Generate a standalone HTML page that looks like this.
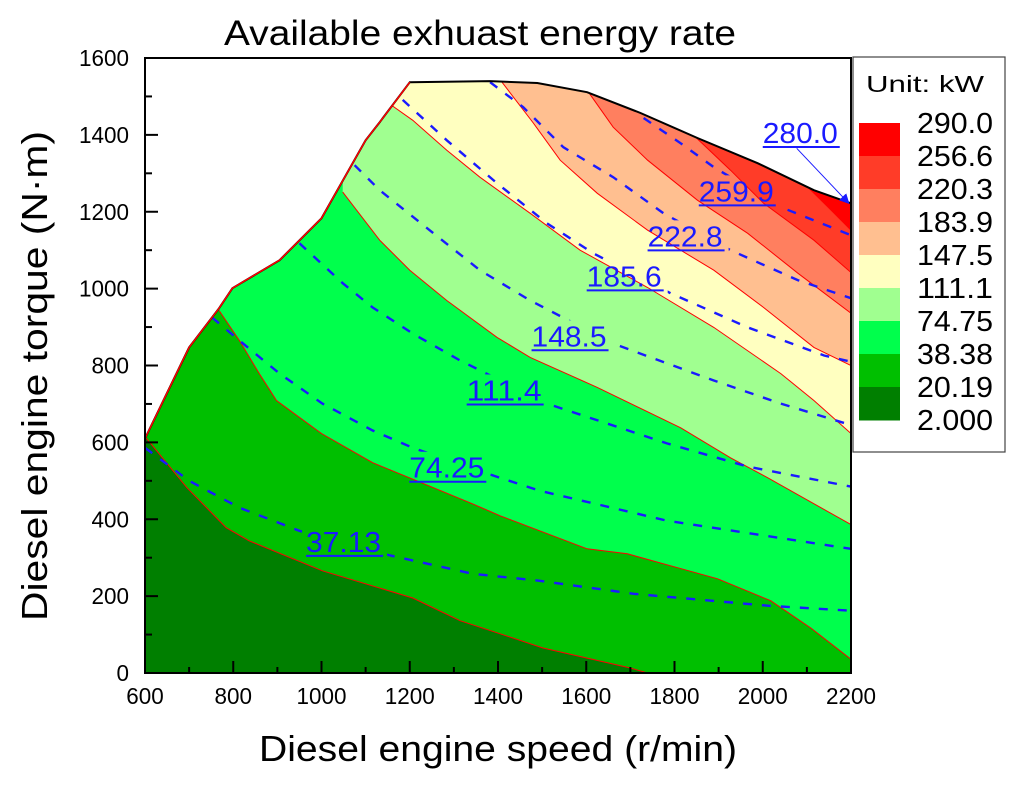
<!DOCTYPE html>
<html><head><meta charset="utf-8"><style>
html,body{margin:0;padding:0;background:#fff;}
svg{display:block;font-family:"Liberation Sans",Arial,sans-serif;}
</style></head><body>
<svg id="chart" width="1024" height="788" viewBox="0 0 1024 788" xmlns="http://www.w3.org/2000/svg">
<defs><clipPath id="envClip"><path id="envClipPath" d=""/></clipPath>
<mask id="labelMask" maskUnits="userSpaceOnUse" x="0" y="0" width="1024" height="788"><rect x="0" y="0" width="1024" height="788" fill="#fff"/><g id="maskHoles"></g></mask>
<marker id="arrowHead" markerWidth="10" markerHeight="10" refX="9" refY="5" orient="auto" markerUnits="userSpaceOnUse"><path d="M0,0 L10,5 L0,10 z" fill="#1a1aff"/></marker></defs>
<text x="480" y="45" font-size="35" text-anchor="middle" textLength="512" lengthAdjust="spacingAndGlyphs">Available exhuast energy rate</text>
<g id="plot"></g>
<g id="axes"></g>
<g id="legend"></g>
<text x="498" y="761" font-size="36" text-anchor="middle" textLength="478" lengthAdjust="spacingAndGlyphs">Diesel engine speed (r/min)</text>
<text transform="translate(47,376) rotate(-90)" font-size="36" text-anchor="middle" textLength="490" lengthAdjust="spacingAndGlyphs">Diesel engine torque (N·m)</text>
</svg>
<script>
// ---- data ----
const xTicks = [600,800,1000,1200,1400,1600,1800,2000,2200];
const yTicks = [0,200,400,600,800,1000,1200,1400,1600];
const levelLabels = ["290.0","256.6","220.3","183.9","147.5","111.1","74.75","38.38","20.19","2.000"];
const levelColors = ["#ff0000","#ff3c28","#ff7f5f","#ffbf90","#ffffc0","#a0ff90","#00ff4c","#00bf00","#007f00"];
const envelope = [[600,0],[600,610],[700,847],[768,949],[798,1001],[905,1074],[1000,1183],[1100,1386],[1132,1433],[1200,1537],[1382,1540],[1489,1535],[1602,1511],[1723,1457],[1852,1392],[1989,1326],[2116,1256],[2200,1222],[2200,0]];
const boundary1 = [[600,615],[695,482],[784,378],[836,344],[1002,266],[1207,195],[1314,136],[1405,102],[1502,65],[1700,13],[1739,0]];
const boundary2 = [[768,943],[814,865],[859,779],[898,709],[1000,623],[1116,547],[1216,500],[1343,440],[1405,409],[1602,323],[1693,310],[1807,274],[1898,245],[2018,188],[2109,117],[2200,36]];
const boundary3 = [[1048,1251],[1132,1126],[1200,1048],[1284,969],[1398,873],[1473,821],[1625,743],[1814,638],[1927,560],[2011,508],[2200,386]];
const boundary4 = [[1155,1480],[1207,1438],[1284,1360],[1359,1290],[1473,1196],[1586,1100],[1739,1003],[1889,899],[2041,779],[2116,709],[2200,623]];
const boundary5 = [[1409,1537],[1480,1431],[1541,1334],[1625,1248],[1739,1152],[1889,1048],[2002,951],[2116,847],[2200,800]];
const boundary6 = [[1605,1511],[1661,1420],[1739,1334],[1852,1230],[1966,1144],[2080,1040],[2200,936]];
const boundary7 = [[1848,1394],[1927,1308],[2002,1222],[2116,1126],[2200,1042]];
const boundary8 = [[2102,1264],[2148,1212],[2200,1152]];
const boundaries = [boundary1,boundary2,boundary3,boundary4,boundary5,boundary6,boundary7,boundary8];
const line3713 = [[600,586],[700,500],[814,430],[950,370],[1139,310],[1343,258],[1495,240],[1707,206],[2011,175],[2200,162]];
const line7425 = [[752,925],[814,865],[905,779],[1002,701],[1116,631],[1207,586],[1375,519],[1495,474],[1784,396],[2200,323]];
const line1114 = [[950,1118],[1048,1014],[1116,951],[1207,883],[1314,813],[1511,701],[1784,597],[1966,537],[2200,485]];
const line1485 = [[1075,1321],[1132,1256],[1245,1152],[1359,1048],[1473,969],[1661,857],[1889,761],[2041,701],[2200,645]];
const line1856 = [[1184,1491],[1284,1386],[1398,1274],[1511,1170],[1616,1092],[1791,988],[1966,899],[2139,826],[2200,810]];
const line2228 = [[1382,1537],[1457,1472],[1548,1368],[1661,1290],[1775,1196],[1927,1100],[2080,1022],[2200,975]];
const line2599 = [[1730,1444],[1814,1378],[1889,1316],[2041,1212],[2200,1139]];
const dashedLines = [line3713,line7425,line1114,line1485,line1856,line2228,line2599];
const contourLabelText = ["37.13","74.25","111.4","148.5","185.6","222.8","259.9","280.0"];
const contourLabelSpeed = [965,1199,1329,1476,1601,1739,1855,2000];
const contourLabelTorque = [315,508,709,850,1006,1110,1227,1379];
const arrow280 = [[2077,1365],[2195,1222]];

// ---- scales ----
const X0=145,X1=851,Y0=673,Y1=58;
const sx = s => X0 + (s-600)*(X1-X0)/1600;
const sy = t => Y0 - t*(Y0-Y1)/1600;
const NS="http://www.w3.org/2000/svg";
function mk(tag, attrs, parent){const e=document.createElementNS(NS,tag);for(const k in attrs)e.setAttribute(k,attrs[k]);parent.appendChild(e);return e;}
const ptsToPath = pts => pts.map((p,i)=>(i?"L":"M")+sx(p[0]).toFixed(1)+","+sy(p[1]).toFixed(1)).join(" ");

const plot=document.getElementById('plot');
const envD = ptsToPath(envelope)+" Z";
document.getElementById('envClipPath').setAttribute('d',envD);
const base = mk('path',{d:envD,fill:levelColors[8]},plot);


const regions = mk('g',{'clip-path':'url(#envClip)'},plot);
boundaries.forEach((b,i)=>{
  const first=b[0], last=b[b.length-1];
  const d = ptsToPath(b)+" L"+sx(2400)+","+sy(last[1])+" L"+sx(2400)+","+sy(3000)+" L"+sx(first[0])+","+sy(3000)+" Z";
  const r = mk('path',{d:d,fill:levelColors[7-i]},regions);
  
  
});
boundaries.forEach((b,i)=>{
  const l = mk('path',{d:ptsToPath(b),fill:'none',stroke:'#ff0000','stroke-width':1},regions);
  
  
});
// holes in dashed lines behind labels
const holes=document.getElementById('maskHoles');
contourLabelText.forEach((t,i)=>{
  mk('rect',{x:sx(contourLabelSpeed[i])-4,y:sy(contourLabelTorque[i])-26,width:85,height:34,fill:'#000'},holes);
});
const dashG = mk('g',{mask:'url(#labelMask)'},regions);
dashedLines.forEach((ln,i)=>{
  const l = mk('path',{d:ptsToPath(ln),fill:'none',stroke:'#1a1aff','stroke-width':2.4,'stroke-dasharray':'9 10'},dashG);
  
  
});
const env = mk('path',{d:ptsToPath(envelope.slice(1,-1)),fill:'none',stroke:'#000','stroke-width':2},plot);


const envR = mk('path',{d:ptsToPath(envelope.slice(0,10)),fill:'none',stroke:'#ff0000','stroke-width':1.5},plot);


contourLabelText.forEach((t,i)=>{
  const x=sx(contourLabelSpeed[i]), y=sy(contourLabelTorque[i]);
  const tx = mk('text',{x:x,y:y,'font-size':29,fill:'#1a1aff',textLength:75,lengthAdjust:'spacingAndGlyphs'},plot);
  tx.textContent=t;
  
  
  const u = mk('line',{x1:x,y1:y+4,x2:x+77,y2:y+4,stroke:'#1a1aff','stroke-width':2},plot);
  
  
});
const ar = mk('line',{x1:sx(arrow280[0][0]),y1:sy(arrow280[0][1]),x2:sx(arrow280[1][0]),y2:sy(arrow280[1][1]),stroke:'#1a1aff','stroke-width':1,'marker-end':'url(#arrowHead)'},plot);



// ---- axes ----
const axes=document.getElementById('axes');
const frame = mk('rect',{x:X0,y:Y1,width:X1-X0,height:Y0-Y1,fill:'none',stroke:'#000','stroke-width':2},axes);


for(let s=600;s<=2200;s+=100){
  const major = s%200===0;
  const t = mk('line',{x1:sx(s),x2:sx(s),y1:Y0,y2:Y0-(major?12:6),stroke:'#000','stroke-width':2},axes);
  
  
}
for(let v=0;v<=1600;v+=100){
  const major = v%200===0;
  const t = mk('line',{x1:X0,x2:X0+(major?13:7),y1:sy(v),y2:sy(v),stroke:'#000','stroke-width':2},axes);
  
  
}
xTicks.forEach(v=>{
  const s=String(v);
  const t = mk('text',{x:sx(v),y:Y0+31,'font-size':23,'text-anchor':'middle',textLength:s.length*12.5,lengthAdjust:'spacingAndGlyphs'},axes);
  t.textContent=s;
  
  
});
yTicks.forEach(v=>{
  const s=String(v);
  const t = mk('text',{x:X0-16,y:sy(v)+8,'font-size':23,'text-anchor':'end',textLength:s.length*12.5,lengthAdjust:'spacingAndGlyphs'},axes);
  t.textContent=s;
  
  
});

// ---- legend ----
const lg=document.getElementById('legend');
const box = mk('rect',{x:853,y:57,width:152,height:395,fill:'#fff',stroke:'#444','stroke-width':1.2},lg);


const ut = mk('text',{x:866,y:92,'font-size':23,textLength:118,lengthAdjust:'spacingAndGlyphs'},lg);
ut.textContent='Unit: kW';


const legTop=123, legStep=33;
levelColors.forEach((c,i)=>{
  const r = mk('rect',{x:859,y:legTop+i*legStep,width:41,height:legStep+0.5,fill:c},lg);
  
  
});
levelLabels.forEach((l,i)=>{
  const t = mk('text',{x:917,y:legTop+i*legStep+10,'font-size':29,textLength:76,lengthAdjust:'spacingAndGlyphs'},lg);
  t.textContent=l;
  
  
});
</script>
</body></html>
